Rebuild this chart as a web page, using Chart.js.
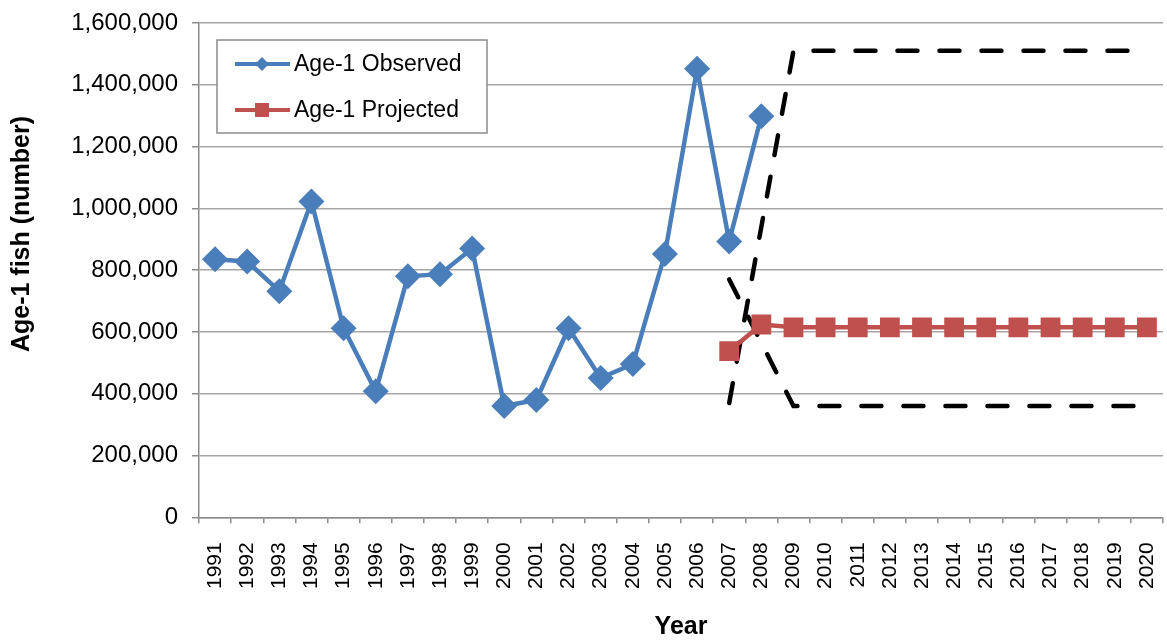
<!DOCTYPE html>
<html>
<head>
<meta charset="utf-8">
<script src="https://cdn.jsdelivr.net/npm/chart.js@4/dist/chart.umd.min.js"></script>
<style>
  html, body { margin: 0; padding: 0; background: #fff; overflow: hidden; }
  #wrap { width: 1167px; height: 640px; overflow: hidden; }
  #ageChart { display: block; margin-top: -3px; }
</style>
</head>
<body>
<div id="wrap"><canvas id="ageChart" width="1177" height="643"></canvas></div>
<script>
var years = [];
for (var y = 1991; y <= 2020; y++) years.push(String(y));

// observed 1991-2008
var observed = [835000, 828000, 732000, 1022000, 612000, 408000, 780000, 787000, 870000, 360000,
  380000, 612000, 451000, 496000, 852000, 1452000, 893000, 1298000];
// projected 2007-2020
var projected = [538000, 624000, 615000, 615000, 615000, 615000, 615000, 615000, 615000, 615000,
  615000, 615000, 615000, 615000];
// dashed bounds: value at 2007, then 2009-2020
var upperStart = 370000, upperLevel = 1510000;
var lowerStart = 770000, lowerLevel = 360000;

var yTitle = 'Age-1 fish (number)';

function pad(arr, before, total) {
  var out = [];
  for (var i = 0; i < before; i++) out.push(null);
  out = out.concat(arr);
  while (out.length < total) out.push(null);
  return out;
}

var n = years.length;
var obsData = pad(observed, 0, n);
var projData = pad(projected, 16, n);
var upperData = [], lowerData = [];
for (var i = 0; i < n; i++) {
  var yr = 1991 + i;
  if (yr === 2007) { upperData.push(upperStart); lowerData.push(lowerStart); }
  else if (yr >= 2009) { upperData.push(upperLevel); lowerData.push(lowerLevel); }
  else { upperData.push(null); lowerData.push(null); }
}

var blue = '#4a7ebb';
var red = '#c0504d';
var font = "'Liberation Sans', Arial, sans-serif";

// canvas is shifted up 3px, so page y = canvas y - 3
var off = 3;

// legend box inside the plot + y title placed like the original
var boxLegend = {
  id: 'boxLegend',
  afterDraw: function(chart) {
    var c = chart.ctx;
    c.save();
    c.translate(0, off);
    c.fillStyle = '#fff';
    c.fillRect(217, 40, 270, 93);
    c.strokeStyle = '#8c8c8c';
    c.lineWidth = 1.5;
    c.strokeRect(217, 40, 270, 93);
    var items = [
      { text: 'Age-1 Observed', color: blue, y: 64, shape: 'diamond' },
      { text: 'Age-1 Projected', color: red, y: 110, shape: 'square' }
    ];
    items.forEach(function(it) {
      c.strokeStyle = it.color;
      c.lineWidth = 4;
      c.beginPath();
      c.moveTo(235, it.y);
      c.lineTo(290, it.y);
      c.stroke();
      c.fillStyle = it.color;
      if (it.shape === 'diamond') {
        c.beginPath();
        c.moveTo(262, it.y - 7);
        c.lineTo(269, it.y);
        c.lineTo(262, it.y + 7);
        c.lineTo(255, it.y);
        c.closePath();
        c.fill();
      } else {
        c.fillRect(255, it.y - 7, 14, 14);
      }
      c.fillStyle = '#000';
      c.font = '23px ' + font;
      c.textBaseline = 'middle';
      c.fillText(it.text, 294, it.y + 1);
    });

    c.translate(22, 234);
    c.rotate(-Math.PI / 2);
    c.font = 'bold 25px ' + font;
    c.textAlign = 'center';
    c.textBaseline = 'middle';
    c.fillStyle = '#000';
    c.fillText(yTitle, 0, 0);
    c.restore();
  }
};

var ctx = document.getElementById('ageChart').getContext('2d');
var chart = new Chart(ctx, {
  type: 'line',
  data: {
    labels: years,
    datasets: [{
      label: 'Age-1 Observed',
      data: obsData,
      borderColor: blue,
      backgroundColor: blue,
      borderWidth: 4.5,
      pointStyle: 'rectRot',
      pointRadius: 13,
      pointBorderWidth: 0,
      tension: 0,
      order: 1
    }, {
      label: 'Age-1 Projected',
      data: projData,
      borderColor: red,
      backgroundColor: red,
      borderWidth: 4.5,
      pointStyle: 'rect',
      pointRadius: 14,
      pointBorderWidth: 0,
      tension: 0,
      order: 2
    }, {
      label: 'Upper',
      data: upperData,
      borderColor: '#000',
      borderWidth: 4.5,
      borderDash: [20, 22],
      borderCapStyle: 'round',
      pointRadius: 0,
      spanGaps: true,
      tension: 0,
      order: 3
    }, {
      label: 'Lower',
      data: lowerData,
      borderColor: '#000',
      borderWidth: 4.5,
      borderDash: [20, 22],
      borderCapStyle: 'round',
      pointRadius: 0,
      spanGaps: true,
      tension: 0,
      order: 4
    }]
  },
  options: {
    responsive: false,
    animation: false,
    layout: { padding: { top: 1, right: 0, left: 6, bottom: 0 } },
    plugins: {
      legend: { display: false },
      tooltip: { enabled: false }
    },
    scales: {
      x: {
        offset: true,
        grid: {
          display: true,
          offset: true,
          drawOnChartArea: false,
          drawTicks: true,
          tickLength: 6,
          color: '#8c8c8c',
          lineWidth: 1.5
        },
        border: { color: '#8c8c8c', width: 1.5 },
        ticks: {
          autoSkip: false,
          minRotation: 90,
          maxRotation: 90,
          padding: 19,
          color: '#000',
          font: { family: font, size: 21 }
        },
        title: {
          display: true,
          text: 'Year',
          color: '#000',
          font: { family: font, size: 25, weight: 'bold', lineHeight: 1 },
          padding: { top: 7, bottom: 0 }
        },
        afterFit: function(scale) { scale.paddingRight = 0; scale.paddingLeft = 0; }
      },
      y: {
        min: 0,
        max: 1600000,
        ticks: {
          stepSize: 200000,
          padding: 14,
          color: '#000',
          font: { family: font, size: 24, lineHeight: 1 },
          callback: function(v) { return v.toLocaleString('en-US'); }
        },
        grid: {
          color: '#a6a6a6',
          lineWidth: 1.5,
          tickLength: 7,
          tickColor: '#8c8c8c'
        },
        border: { color: '#8c8c8c', width: 1.5 },
        title: { display: false },
        afterFit: function(scale) { scale.width = 193; }
      }
    }
  },
  plugins: [boxLegend]
});
</script>
</body>
</html>
